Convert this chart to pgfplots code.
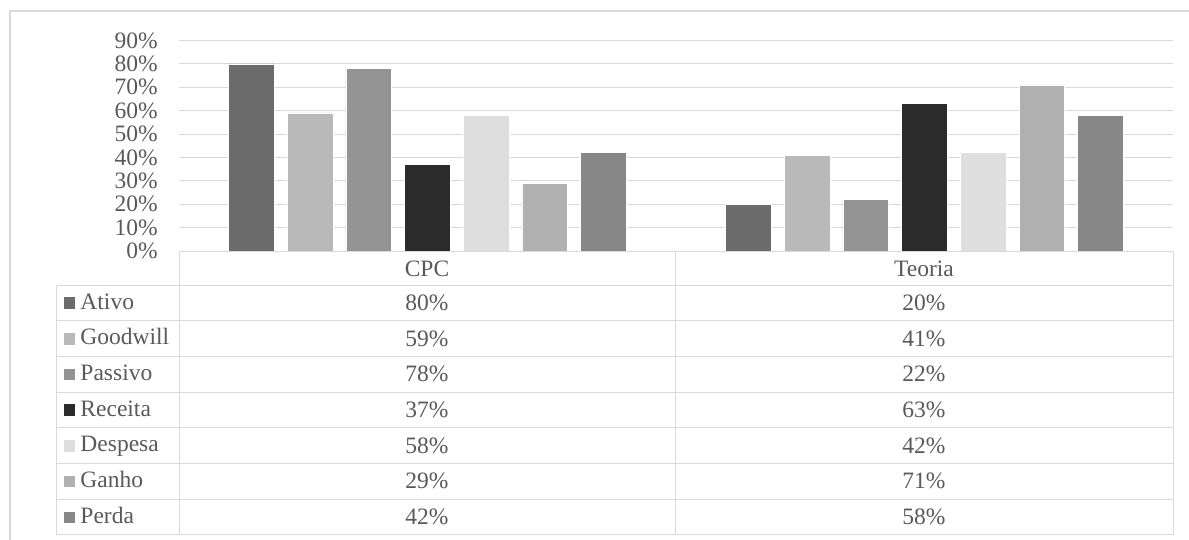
\documentclass[border=0pt]{standalone}
\usepackage{pgfplots}
\usepackage{pgfplotstable}
\usepackage{fontspec}
\setmainfont{Liberation Serif}
\pgfplotsset{compat=1.18}

\definecolor{txt}{HTML}{595959}
\definecolor{gridc}{HTML}{D9D9D9}
\definecolor{cAtivo}{HTML}{6B6B6B}
\definecolor{cGood}{HTML}{B9B9B9}
\definecolor{cPass}{HTML}{939393}
\definecolor{cRec}{HTML}{2B2B2B}
\definecolor{cDesp}{HTML}{DEDEDE}
\definecolor{cGanho}{HTML}{B0B0B0}
\definecolor{cPerda}{HTML}{878787}

% share of each concept by source (CPC at x=0.5, Teoria at x=1.5)
\pgfplotstableread{
grp Ativo Goodwill Passivo Receita Despesa Ganho Perda
0.5 80 59 78 37 58 29 42
1.5 20 41 22 63 42 71 58
}\shares

\begin{document}
\begin{tikzpicture}[font=\fontsize{23.5bp}{28bp}\selectfont, text=txt]
\useasboundingbox (0,0) rectangle (1189bp,-540bp);
% outer chart frame
\draw[gridc, line width=2bp] (10bp,-560bp) -- (10bp,-11bp) -- (1210bp,-11bp);

\begin{axis}[
  at={(179bp,-251bp)}, anchor=south west, scale only axis,
  width=994bp, height=210.6bp,
  xmin=0, xmax=2, ymin=0, ymax=90,
  ybar=12.97bp, bar width=45.7bp,
  every axis plot post/.append style={
    legend image code/.code={\fill[##1, draw=none] (0bp,-6bp) rectangle (11.5bp,5.5bp);}},
  xtick=\empty, ytick={0,10,...,90},
  yticklabel={\pgfmathprintnumber{\tick}\%},
  /pgf/number format/assume math mode=true,
  ymajorgrids, grid style={gridc, line width=1bp},
  axis line style={draw=none},
  major tick length=0pt,
  yticklabel style={anchor=east, inner sep=0pt, xshift=-21bp, text=txt},
  legend cell align=left,
  legend style={at={(axis description cs:-0.1157,-0.1614)}, anchor=north west,
    draw=none, fill=none, inner sep=0pt, outer sep=0pt, row sep=0pt, column sep=5bp,
    nodes={inner sep=0pt, text height=24bp, text depth=11.71bp, text=txt}},
]
\addplot[fill=cAtivo, draw=white, line width=0.6bp] table[x=grp, y=Ativo] {\shares};
\addlegendentry{Ativo}
\addplot[fill=cGood, draw=white, line width=0.6bp] table[x=grp, y=Goodwill] {\shares};
\addlegendentry{Goodwill}
\addplot[fill=cPass, draw=white, line width=0.6bp] table[x=grp, y=Passivo] {\shares};
\addlegendentry{Passivo}
\addplot[fill=cRec, draw=white, line width=0.6bp] table[x=grp, y=Receita] {\shares};
\addlegendentry{Receita}
\addplot[fill=cDesp, draw=white, line width=0.6bp] table[x=grp, y=Despesa] {\shares};
\addlegendentry{Despesa}
\addplot[fill=cGanho, draw=white, line width=0.6bp] table[x=grp, y=Ganho] {\shares};
\addlegendentry{Ganho}
\addplot[fill=cPerda, draw=white, line width=0.6bp] table[x=grp, y=Perda] {\shares};
\addlegendentry{Perda}
\end{axis}

% data table below the bars
\begin{scope}[x=1bp, y=-1bp]
  \draw[gridc, line width=1bp] (179,251) -- (1173,251);
  \foreach \k in {0,...,7}
    \draw[gridc, line width=1bp] (56,285+\k*35.71) -- (1173,285+\k*35.71);
  \draw[gridc, line width=1bp] (179,251) -- (179,535)
                               (675,251) -- (675,535)
                               (1173,251) -- (1173,535)
                               (56,285) -- (56,535);
  \node[anchor=base, text=txt] at (427,276.5) {CPC};
  \node[anchor=base, text=txt] at (924,276.5) {Teoria};
  \foreach \s [count=\i from 0] in {Ativo,Goodwill,Passivo,Receita,Despesa,Ganho,Perda} {
    \pgfplotstablegetelem{0}{\s}\of\shares
    \node[anchor=base, text=txt] at (427,310.3+\i*35.71) {\pgfplotsretval\%};
    \pgfplotstablegetelem{1}{\s}\of\shares
    \node[anchor=base, text=txt] at (924,310.3+\i*35.71) {\pgfplotsretval\%};
  }
\end{scope}
\end{tikzpicture}
\end{document}
